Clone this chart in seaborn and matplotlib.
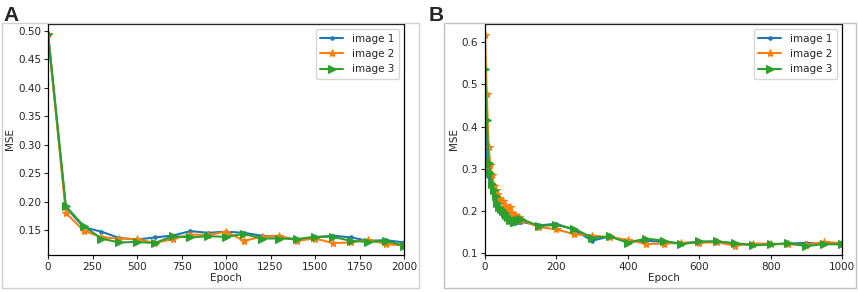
import matplotlib
matplotlib.use("Agg")
import matplotlib.pyplot as plt
import seaborn as sns
import pandas as pd
import numpy as np
from matplotlib.patches import Rectangle

sns.set_style("ticks")
plt.rcParams['font.family'] = ['DejaVu Sans']

# Panel A data
epochs_a = list(range(0, 2001, 100))
a_img1 = [0.495, 0.190, 0.155, 0.147, 0.136, 0.133, 0.137, 0.140, 0.148, 0.145, 0.147,
          0.145, 0.140, 0.138, 0.133, 0.137, 0.140, 0.137, 0.131, 0.132, 0.128]
a_img2 = [0.495, 0.180, 0.149, 0.137, 0.135, 0.134, 0.127, 0.134, 0.142, 0.141, 0.147,
          0.131, 0.138, 0.140, 0.131, 0.135, 0.127, 0.128, 0.133, 0.125, 0.123]
a_img3 = [0.495, 0.192, 0.157, 0.135, 0.128, 0.129, 0.127, 0.139, 0.137, 0.139, 0.138,
          0.143, 0.135, 0.135, 0.134, 0.138, 0.138, 0.131, 0.129, 0.131, 0.122]

# Panel B data
epochs_b = list(range(0, 101, 5)) + list(range(150, 1001, 50))
b_img1 = [0.450, 0.320, 0.280, 0.270, 0.255, 0.240, 0.230, 0.215, 0.210, 0.200, 0.198,
          0.195, 0.190, 0.183, 0.178, 0.175, 0.173, 0.172, 0.173, 0.175, 0.175,
          0.166, 0.170, 0.155, 0.130, 0.140, 0.127, 0.130, 0.127, 0.124, 0.127,
          0.128, 0.123, 0.121, 0.121, 0.123, 0.125, 0.122, 0.122]
b_img2 = [0.617, 0.478, 0.352, 0.310, 0.285, 0.260, 0.250, 0.240, 0.230, 0.225, 0.225,
          0.215, 0.210, 0.205, 0.210, 0.195, 0.190, 0.190, 0.185, 0.185, 0.180,
          0.162, 0.157, 0.145, 0.142, 0.138, 0.132, 0.122, 0.123, 0.125, 0.125,
          0.126, 0.118, 0.123, 0.123, 0.121, 0.120, 0.127, 0.124]
b_img3 = [0.537, 0.415, 0.315, 0.290, 0.265, 0.250, 0.235, 0.220, 0.210, 0.205, 0.200,
          0.195, 0.190, 0.185, 0.180, 0.178, 0.175, 0.175, 0.178, 0.180, 0.182,
          0.165, 0.167, 0.158, 0.137, 0.140, 0.125, 0.135, 0.130, 0.121, 0.128,
          0.128, 0.124, 0.119, 0.121, 0.124, 0.117, 0.122, 0.121]

labels = ["image 1", "image 2", "image 3"]
colors = ["#1f77b4", "#ff7f0e", "#2ca02c"]
markers = [".", "*", ">"]
msizes = [5, 6, 6]

fig = plt.figure(figsize=(8.58, 2.92), dpi=100)

# panel frames
fig.patches.append(Rectangle((2/858, 4/292), 417/858, 265/292, transform=fig.transFigure,
                             fill=False, edgecolor="#d0d0d0", lw=1.0))
fig.patches.append(Rectangle((444/858, 4/292), 412/858, 265/292, transform=fig.transFigure,
                             fill=False, edgecolor="#c0c0c0", lw=1.0))

axA = fig.add_axes([48/858, 37/292, 356/858, 231/292])
axB = fig.add_axes([485/858, 37/292, 357/858, 231/292])

def draw(ax, x, series):
    rows = []
    for lab, ys in zip(labels, series):
        for xi, yi in zip(x, ys):
            rows.append({"Epoch": xi, "MSE": yi, "img": lab})
    df = pd.DataFrame(rows)
    for lab, c, m, ms in zip(labels, colors, markers, msizes):
        sub = df[df["img"] == lab]
        sns.lineplot(data=sub, x="Epoch", y="MSE", ax=ax, color=c, marker=m,
                     markersize=ms, markeredgecolor=c, lw=1.5, label=lab)
    ax.set_xlabel("Epoch", fontsize=7.5, labelpad=1)
    ax.set_ylabel("MSE", fontsize=7.5, labelpad=2)
    ax.tick_params(labelsize=7.5, length=3, width=0.8, pad=2)
    for s in ax.spines.values():
        s.set_linewidth(0.9)
        s.set_color("black")
    ax.legend(loc="upper right", fontsize=7.5, frameon=True, handlelength=2.2,
              borderpad=0.45, labelspacing=0.5, fancybox=True, edgecolor="#cccccc")

draw(axA, epochs_a, [a_img1, a_img2, a_img3])
axA.set_xlim(0, 2000)
axA.set_ylim(0.106, 0.512)
axA.set_xticks(range(0, 2001, 250))
axA.set_yticks([0.15, 0.20, 0.25, 0.30, 0.35, 0.40, 0.45, 0.50])
axA.set_yticklabels([f"{v:.2f}" for v in [0.15, 0.20, 0.25, 0.30, 0.35, 0.40, 0.45, 0.50]])

draw(axB, epochs_b, [b_img1, b_img2, b_img3])
axB.set_xlim(0, 1000)
axB.set_ylim(0.096, 0.643)
axB.set_xticks(range(0, 1001, 200))
axB.set_yticks([0.1, 0.2, 0.3, 0.4, 0.5, 0.6])

fig.text(3/858, 1 - 21/292, "A", fontsize=15, fontweight="bold", family="Liberation Sans")
fig.text(429/858, 1 - 21/292, "B", fontsize=15, fontweight="bold", family="Liberation Sans")

fig.savefig("out.png", dpi=100)
